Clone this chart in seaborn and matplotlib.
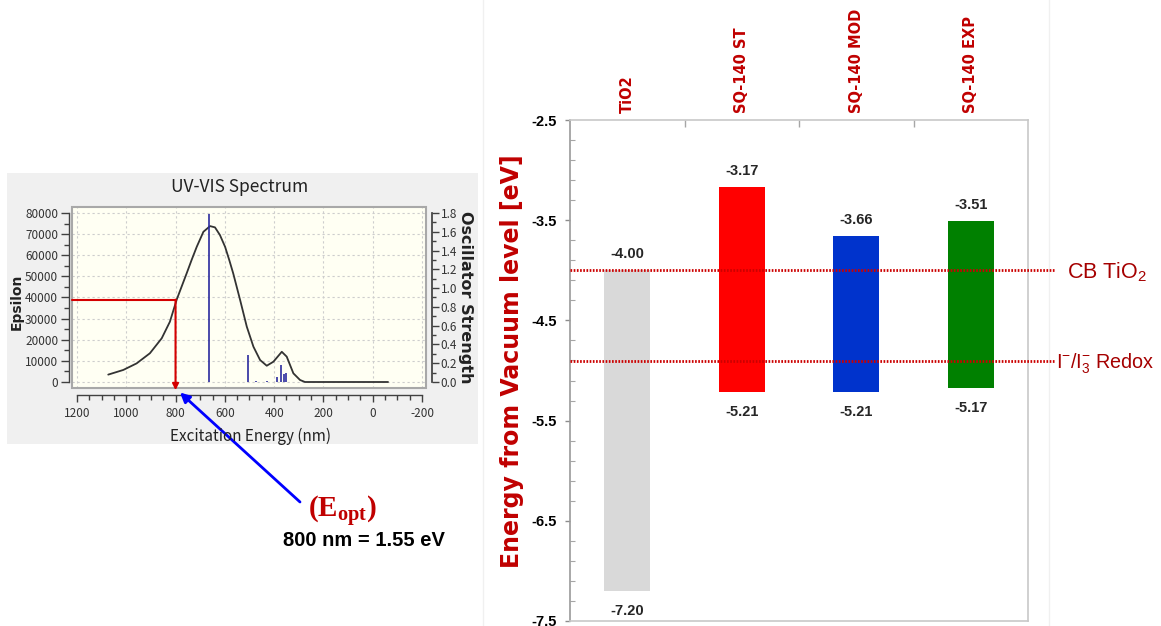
import matplotlib
matplotlib.use("Agg")

import matplotlib.pyplot as plt
import pandas as pd
import seaborn as sns
from matplotlib.patches import Rectangle
from matplotlib.ticker import FixedLocator, FormatStrFormatter, MultipleLocator

# ---------------------------------------------------------------------------
# DATA
# ---------------------------------------------------------------------------
# UV-VIS spectrum of the dye (left inset)
SPEC_NM = [1073, 1012, 958, 904, 856, 823, 795, 755, 735, 714, 687, 660, 640,
           620, 599, 582, 566, 538, 511, 484, 457, 430, 403, 369, 349, 322,
           295, 275, -62]
SPEC_EPS = [3500, 5700, 8800, 13600, 20700, 28500, 39100, 51400, 57700, 64000,
            71100, 73800, 73200, 69600, 64000, 57700, 51400, 38800, 26200,
            16700, 10400, 7700, 9600, 14300, 12000, 4100, 950, 0, 0]

# oscillator strengths (sticks)
STICK_NM = [663, 507, 475, 430, 387, 372, 359, 352]
STICK_F = [1.79, 0.29, 0.01, 0.01, 0.056, 0.18, 0.085, 0.093]

# optical gap read-out
EOPT_NM = 800
EOPT_EPS = 39000
EOPT_EV = 1.55

# energy level diagram (right)
MATERIALS = ["TiO2", "SQ-140 ST", "SQ-140 MOD", "SQ-140 EXP"]
LUMO = [-4.00, -3.17, -3.66, -3.51]
HOMO = [-7.20, -5.21, -5.21, -5.17]
BAR_COLORS = ["#D9D9D9", "#FF0000", "#0033CC", "#008000"]
CB_TIO2 = -4.00
REDOX = -4.91

# ---------------------------------------------------------------------------
# STYLE
# ---------------------------------------------------------------------------
sns.set_theme(style="white")
plt.rcParams["font.family"] = ["DejaVu Sans"]
plt.rcParams["axes.unicode_minus"] = False
plt.rcParams["mathtext.fontset"] = "custom"
plt.rcParams["mathtext.rm"] = "Liberation Sans"
plt.rcParams["mathtext.sf"] = "Liberation Sans"
plt.rcParams["mathtext.bf"] = "Liberation Serif:bold"

UI_FONT = ["Noto Sans CJK JP", "DejaVu Sans"]
DARK_RED = "#C00000"

W, H = 1161, 626


def box(x0, y0, x1, y1):
    # pixel box (origin top-left) -> figure fraction [left, bottom, width, height]
    return [x0 / W, 1 - y1 / H, (x1 - x0) / W, (y1 - y0) / H]


fig = plt.figure(figsize=(W / 100, H / 100), dpi=100)
fig.patch.set_facecolor("white")

# grey window behind the spectrum screenshot
fig.add_artist(Rectangle((7 / W, 1 - 444 / H), (478 - 7) / W, (444 - 173) / H,
                         transform=fig.transFigure, facecolor="#F0F0F0",
                         edgecolor="none", zorder=-2))
# faint border of the energy-diagram panel
fig.add_artist(Rectangle((483 / W, -0.01), (1049 - 483) / W, 1.02,
                         transform=fig.transFigure, fill=False,
                         edgecolor="#F0F0F0", lw=1, zorder=-2))

# ---------------------------------------------------------------------------
# LEFT: UV-VIS spectrum
# ---------------------------------------------------------------------------
ax = fig.add_axes(box(72, 207, 426, 388))
ax.set_facecolor("#FFFFF3")
sns.lineplot(x=SPEC_NM, y=SPEC_EPS, sort=False, color="#333333", lw=1.3, ax=ax)
ax.set_xlim(1220, -216)
ax.set_ylim(-2840, 82840)

ax.xaxis.set_major_locator(MultipleLocator(200))
ax.xaxis.set_minor_locator(MultipleLocator(50))
ax.yaxis.set_major_locator(MultipleLocator(10000))
ax.yaxis.set_minor_locator(MultipleLocator(5000))
ax.grid(True, which="major", color="#CDCDCD", ls=(0, (2, 2.5)), lw=0.8)

for side in ["top", "right"]:
    ax.spines[side].set_visible(False)
ax.spines["bottom"].set_position(("outward", 5))
ax.spines["bottom"].set_bounds(-200, 1200)
ax.spines["left"].set_position(("outward", 2))
ax.spines["left"].set_bounds(0, 80000)
for side in ["bottom", "left"]:
    ax.spines[side].set_color("#404040")
    ax.spines[side].set_linewidth(1.0)

ax.tick_params(axis="x", which="major", bottom=True, direction="out", length=5,
               width=1, color="#404040", pad=4, labelsize=8.5,
               labelcolor="#333333", labelfontfamily=UI_FONT)
ax.tick_params(axis="x", which="minor", bottom=True, direction="out", length=3.5,
               width=1, color="#404040")
ax.tick_params(axis="y", which="major", left=True, direction="out", length=5.5,
               width=1, color="#404040", pad=2.5, labelsize=8.5,
               labelcolor="#333333", labelfontfamily=UI_FONT)
ax.tick_params(axis="y", which="minor", left=True, direction="out", length=3.5,
               width=1, color="#404040")
ax.set_xlabel("")
ax.set_ylabel("")

# frame of the plotting area
ax.add_patch(Rectangle((0, 0), 1, 1, transform=ax.transAxes, fill=False,
                       edgecolor="#A8A8A8", lw=1.5, clip_on=False, zorder=4))

# oscillator strength sticks on the twin axis
ax2 = ax.twinx()
scale = 1.8 / 80000
ax2.set_ylim(-2840 * scale, 82840 * scale)
ax2.vlines(STICK_NM, 0, STICK_F, color="#2B2B9E", lw=1.2)
ax2.grid(False)
for side in ["top", "left", "bottom"]:
    ax2.spines[side].set_visible(False)
ax2.spines["right"].set_position(("outward", 4))
ax2.spines["right"].set_bounds(0, 1.8)
ax2.spines["right"].set_color("#404040")
ax2.yaxis.set_major_locator(MultipleLocator(0.2))
ax2.yaxis.set_minor_locator(MultipleLocator(0.1))
ax2.yaxis.set_major_formatter(FormatStrFormatter("%.1f"))
ax2.tick_params(axis="y", which="major", right=True, direction="out", length=5,
                width=1, color="#404040", pad=1.5, labelsize=8.5,
                labelcolor="#333333", labelfontfamily=UI_FONT)
ax2.tick_params(axis="y", which="minor", right=True, direction="out", length=3,
                width=1, color="#404040")

# red read-out at 800 nm
ax2.plot([ax.get_xlim()[0], EOPT_NM], [EOPT_EPS * scale] * 2,
         color="#D40000", lw=1.5, clip_on=False, zorder=5)
ax2.annotate("", xy=(EOPT_NM, -0.012), xycoords=("data", "axes fraction"),
             xytext=(EOPT_NM, EOPT_EPS * scale), textcoords="data",
             arrowprops=dict(arrowstyle="-|>", color="#D40000", lw=1.5,
                             mutation_scale=9, shrinkA=0, shrinkB=0),
             annotation_clip=False, zorder=5)
# blue pointer to the axis
ax2.annotate("", xy=(EOPT_NM - 18, -0.025), xycoords=("data", "axes fraction"),
             xytext=(300, H - 502), textcoords="figure pixels",
             arrowprops=dict(arrowstyle="-|>", color="#0000FF", lw=2,
                             mutation_scale=14, shrinkA=0, shrinkB=0),
             annotation_clip=False, zorder=6)

fig.text(240 / W, 1 - 187 / H, "UV-VIS Spectrum", ha="center", va="center",
         fontsize=12.5, family=UI_FONT, color="#222222")
fig.text(250 / W, 1 - 436 / H, "Excitation Energy (nm)", ha="center", va="center",
         fontsize=11, family=UI_FONT, color="#222222")
fig.text(17 / W, 1 - 302 / H, "Epsilon", ha="center", va="center", rotation=90,
         fontsize=10, fontweight="bold", color="#222222")
fig.text(466 / W, 1 - 297 / H, "Oscillator Strength", ha="center", va="center",
         rotation=270, fontsize=11.5, fontweight="bold", color="#222222")

fig.text(343 / W, 1 - 511 / H, r"(E$_{\mathbf{opt}}$)", ha="center", va="center",
         fontsize=21, family="Liberation Serif", fontweight="bold", color=DARK_RED)
fig.text(364 / W, 1 - 541 / H, f"{EOPT_NM} nm = {EOPT_EV:.2f} eV", ha="center",
         va="center", fontsize=14.5, family="Liberation Sans", fontweight="bold",
         color="black")

# ---------------------------------------------------------------------------
# RIGHT: energy level diagram
# ---------------------------------------------------------------------------
levels = pd.DataFrame({"material": MATERIALS, "lumo": LUMO, "homo": HOMO})
levels["span"] = levels["lumo"] - levels["homo"]

ax3 = fig.add_axes(box(570, 120, 1028, 621))
sns.barplot(data=levels, x="material", y="span", hue="material",
            palette=BAR_COLORS, width=0.4, saturation=1, errorbar=None,
            legend=False, linewidth=0, ax=ax3)
# float every bar between its HOMO and LUMO
for patch, lo in zip(ax3.patches, levels["homo"]):
    patch.set_y(lo)

ax3.set_xlim(-0.5, len(MATERIALS) - 0.5)
ax3.set_ylim(-7.5, -2.5)
ax3.set_xlabel("")
ax3.set_ylabel("")

ax3.yaxis.set_major_locator(MultipleLocator(1.0, offset=0.5))
ax3.yaxis.set_minor_locator(MultipleLocator(0.2, offset=0.1))
ax3.yaxis.set_major_formatter(FormatStrFormatter("%.1f"))
ax3.tick_params(axis="y", which="major", left=True, direction="out", length=3.6,
                width=1, color="#8C8C8C", pad=6, labelsize=10.5,
                labelcolor="black", labelfontfamily="Liberation Sans")
ax3.tick_params(axis="y", which="minor", left=True, direction="in", length=3.6,
                width=0.8, color="#A6A6A6")
for lab in ax3.get_yticklabels():
    lab.set_fontweight("bold")

ax3.xaxis.tick_top()
ax3.xaxis.set_minor_locator(FixedLocator([0.5, 1.5, 2.5]))
ax3.tick_params(axis="x", which="major", top=True, bottom=False, length=0,
                pad=5, labelrotation=90, labelsize=10.5, labelcolor=DARK_RED,
                labeltop=True, labelbottom=False)
ax3.tick_params(axis="x", which="minor", top=True, bottom=False, direction="in",
                length=5, width=1, color="#A6A6A6")
for lab in ax3.get_xticklabels():
    lab.set_fontweight("bold")

for side in ["top", "right", "bottom"]:
    ax3.spines[side].set_color("#C8C8C8")
    ax3.spines[side].set_linewidth(1.2)
ax3.spines["left"].set_color("#9A9A9A")
ax3.spines["left"].set_linewidth(1.2)

# HOMO / LUMO value labels
for i, (top, bot) in enumerate(zip(LUMO, HOMO)):
    ax3.text(i, top + 0.16, f"{top:.2f}", ha="center", va="center",
             fontsize=10.5, family="Liberation Sans", fontweight="bold")
    ax3.text(i, bot - 0.205, f"{bot:.2f}", ha="center", va="center",
             fontsize=10.5, family="Liberation Sans", fontweight="bold")

# reference levels
ytr = ax3.get_yaxis_transform()
for lvl in [CB_TIO2, REDOX]:
    ax3.plot([0, 1.059], [lvl, lvl], transform=ytr, color="#CC0000", lw=2,
             ls=(0, (0.6, 0.55)), clip_on=False, zorder=5)
ax3.text(1.085, CB_TIO2 - 0.08, r"CB TiO$_{\mathsf{2}}$", transform=ytr,
         ha="left", va="baseline", fontsize=15.5, family="Liberation Sans",
         color="#A50000")
ax3.text(1.062, REDOX - 0.075, r"I$^{\mathsf{-}}$/I$_{\mathsf{3}}^{\mathsf{-}}$ Redox",
         transform=ytr, ha="left", va="baseline", fontsize=14.2,
         family="Liberation Sans", color="#A50000")

fig.text(512 / W, 1 - 361 / H, "Energy from Vacuum level [eV]", ha="center",
         va="center", rotation=90, fontsize=17, fontweight="bold", color=DARK_RED)

fig.savefig("out.png", dpi=100)
